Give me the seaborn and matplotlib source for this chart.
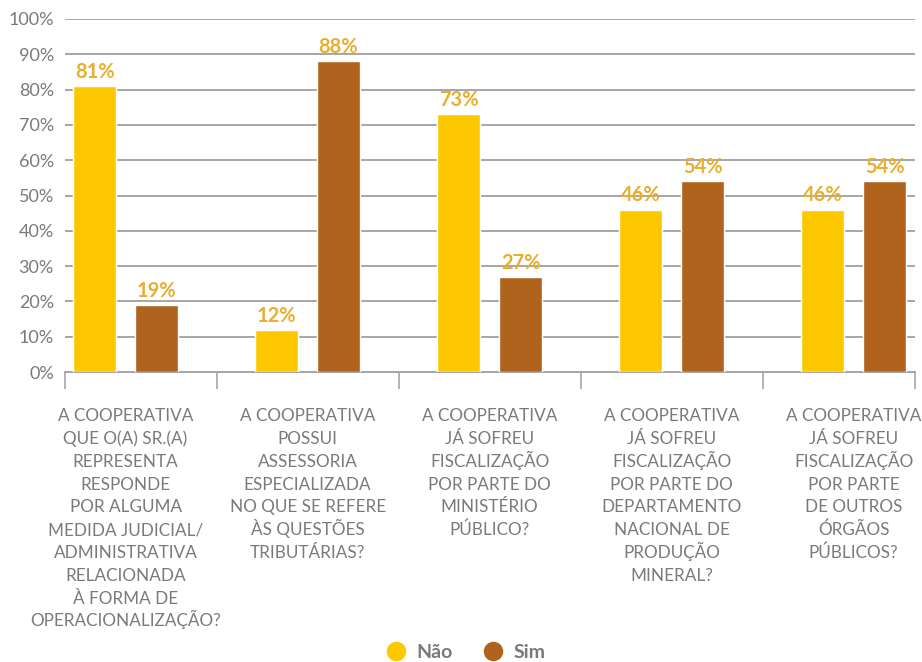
import matplotlib
matplotlib.use("Agg")
import matplotlib.pyplot as plt
from matplotlib.lines import Line2D
from matplotlib.ticker import FixedLocator, PercentFormatter
import pandas as pd
import seaborn as sns

# Survey questions (x categories)
perguntas = [
    "A COOPERATIVA\nQUE O(A) SR.(A)\nREPRESENTA\nRESPONDE\nPOR ALGUMA\nMEDIDA JUDICIAL/\nADMINISTRATIVA\nRELACIONADA\nÀ FORMA DE\nOPERACIONALIZAÇÃO?",
    "A COOPERATIVA\nPOSSUI\nASSESSORIA\nESPECIALIZADA\nNO QUE SE REFERE\nÀS QUESTÕES\nTRIBUTÁRIAS?",
    "A COOPERATIVA\nJÁ SOFREU\nFISCALIZAÇÃO\nPOR PARTE DO\nMINISTÉRIO\nPÚBLICO?",
    "A COOPERATIVA\nJÁ SOFREU\nFISCALIZAÇÃO\nPOR PARTE DO\nDEPARTAMENTO\nNACIONAL DE\nPRODUÇÃO\nMINERAL?",
    "A COOPERATIVA\nJÁ SOFREU\nFISCALIZAÇÃO\nPOR PARTE\nDE OUTROS\nÓRGÃOS\nPÚBLICOS?",
]
respostas = ["Não", "Sim"]
nao = [81, 12, 73, 46, 46]
sim = [19, 88, 27, 54, 54]
yticks = [0, 10, 20, 30, 40, 50, 60, 70, 80, 90, 100]

cores = {"Não": "#FDC800", "Sim": "#B0631C"}
cor_rotulo = "#E8AE2E"
cinza_texto = "#7A7A7A"
cinza_grade = "#A6A6A6"

df = pd.DataFrame({
    "pergunta": perguntas * 2,
    "resposta": ["Não"] * len(perguntas) + ["Sim"] * len(perguntas),
    "valor": nao + sim,
})

sns.set_theme(style="white")
plt.rcParams["font.family"] = ["Lato", "DejaVu Sans"]

fig = plt.figure(figsize=(9.22, 6.62), dpi=100)
ax = fig.add_axes([0.0705, 0.438, 0.922, 0.5333])

sns.barplot(
    data=df, x="pergunta", y="valor", hue="resposta",
    hue_order=respostas, order=perguntas, palette=cores, saturation=1,
    width=0.68, gap=0.306, legend=False, ax=ax, zorder=3,
)

for cont in ax.containers:
    ax.bar_label(cont, fmt="{:.0f}%", padding=3, color=cor_rotulo,
                 fontsize=14.5, fontweight="bold")

ax.set_ylim(0, 100)
ax.set_xlim(-0.333, 4.338)
ax.set_yticks(yticks)
ax.yaxis.set_major_formatter(PercentFormatter(decimals=0))
ax.tick_params(axis="y", length=0, pad=8, labelsize=13, labelcolor=cinza_texto)
ax.grid(axis="y", color=cinza_grade, linewidth=1.4)
ax.set_axisbelow(True)

# Category labels: one line at a time so accented capitals keep an even rhythm
ax.set_xticks(range(len(perguntas)))
ax.set_xticklabels([])
ax.tick_params(axis="x", which="major", length=0)
primeira_linha = 35.5   # points below the axis to the first baseline
entrelinha = 16.4       # points between baselines
for i, texto in enumerate(perguntas):
    for j, linha in enumerate(texto.split("\n")):
        ax.annotate(linha, xy=(i, 0), xycoords=("data", "axes fraction"),
                    xytext=(0, -primeira_linha - j * entrelinha),
                    textcoords="offset points", ha="center", va="baseline",
                    fontsize=12.3, color=cinza_texto, annotation_clip=False)

ax.xaxis.set_minor_locator(FixedLocator([-0.333, 0.5, 1.5, 2.5, 3.5, 4.338]))
ax.tick_params(axis="x", which="minor", length=12.5, width=1.2,
               color=cinza_grade, bottom=True)

for lado in ["top", "right", "left"]:
    ax.spines[lado].set_visible(False)
ax.spines["bottom"].set_color(cinza_grade)
ax.spines["bottom"].set_linewidth(1.4)
ax.set_xlabel("")
ax.set_ylabel("")

handles = [
    Line2D([], [], marker="o", linestyle="", markersize=13,
           markerfacecolor=cores[r], markeredgecolor=cores[r], label=r)
    for r in respostas
]
leg = fig.legend(handles=handles, loc="center", bbox_to_anchor=(0.5, 0.014),
                 ncol=2, frameon=False, handletextpad=0.05, columnspacing=1.1,
                 prop={"size": 14, "weight": "bold"})
for t in leg.get_texts():
    t.set_color(cinza_texto)

fig.savefig("out.png", dpi=100)
